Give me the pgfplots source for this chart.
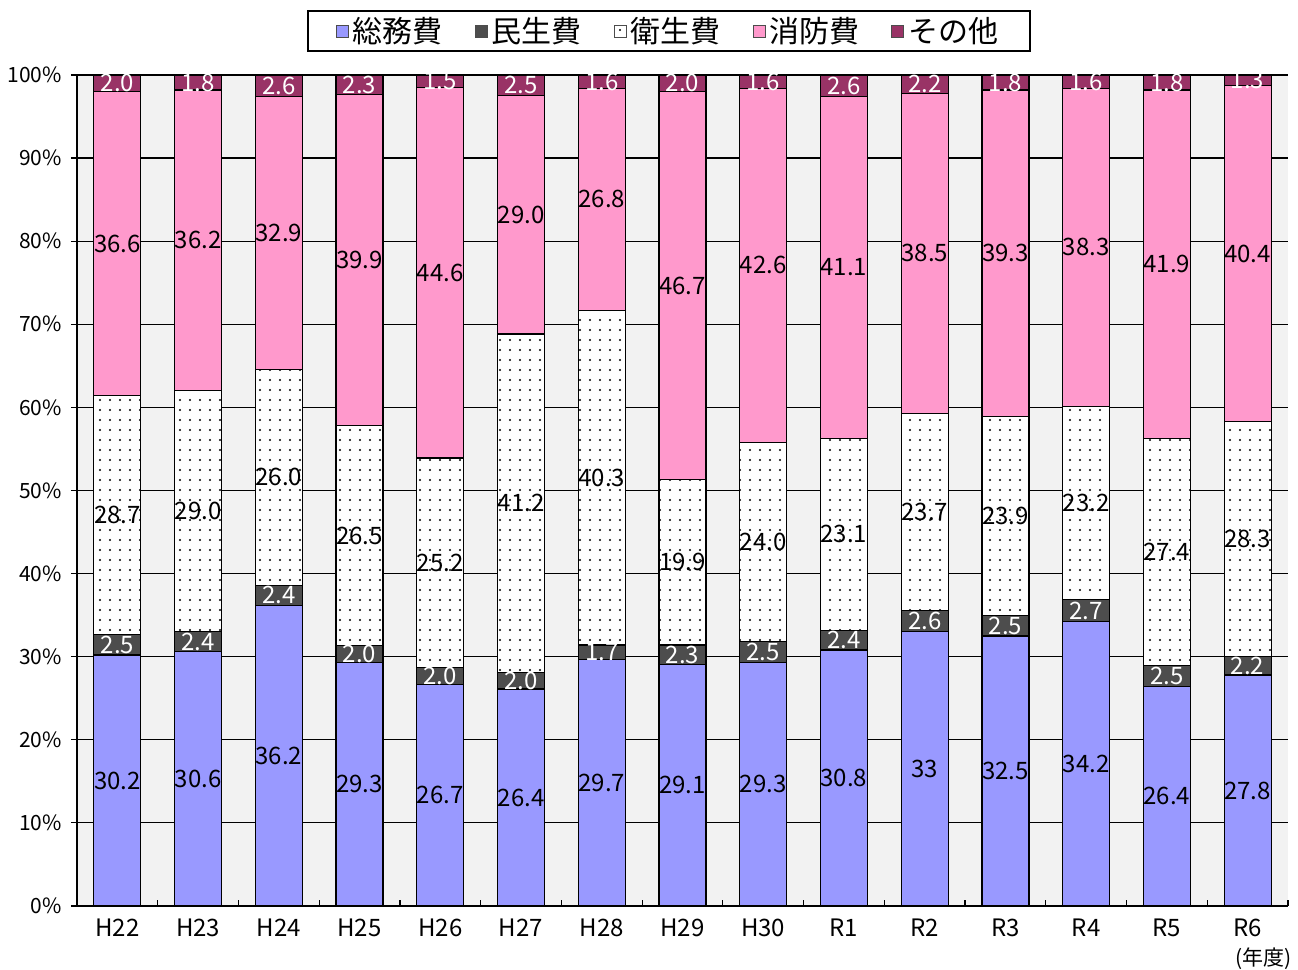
\documentclass[border=0pt]{standalone}
\usepackage{pgfplots}
\pgfplotsset{compat=1.18}
\usepackage{pgfplotstable}
\usepackage{fontspec}
\setmainfont{Noto Sans CJK JP}
\usetikzlibrary{patterns}
\pgfdeclarepatternformonly{sparsedots}{\pgfpoint{-1pt}{-1pt}}{\pgfpoint{1pt}{1pt}}{\pgfpoint{5pt}{5pt}}{\pgfpathcircle{\pgfpointorigin}{0.55pt}\pgfusepath{fill}}
\definecolor{somu}{HTML}{9999FF}
\definecolor{minsei}{HTML}{4D4D4D}
\definecolor{shobo}{HTML}{FF99CC}
\definecolor{sonota}{HTML}{993366}
\definecolor{bgc}{HTML}{F2F2F2}

\pgfplotstableread{
x  a      b     c      d      e     la    lb   lc    ld    le
0  30.2   2.5   28.7   36.6   2.0   30.2  2.5  28.7  36.6  2.0
1  30.6   2.4   29.0   36.2   1.8   30.6  2.4  29.0  36.2  1.8
2  36.2   2.4   26.0   32.8   2.6   36.2  2.4  26.0  32.9  2.6
3  29.3   2.0   26.5   39.9   2.3   29.3  2.0  26.5  39.9  2.3
4  26.7   2.0   25.2   44.6   1.5   26.7  2.0  25.2  44.6  1.5
5  26.11  1.98  40.75  28.68  2.47  26.4  2.0  41.2  29.0  2.5
6  29.7   1.7   40.3   26.7   1.6   29.7  1.7  40.3  26.8  1.6
7  29.1   2.3   19.9   46.7   2.0   29.1  2.3  19.9  46.7  2.0
8  29.3   2.5   24.0   42.6   1.6   29.3  2.5  24.0  42.6  1.6
9  30.8   2.4   23.1   41.1   2.6   30.8  2.4  23.1  41.1  2.6
10 33.0   2.6   23.7   38.5   2.2   33    2.6  23.7  38.5  2.2
11 32.5   2.5   23.9   39.3   1.8   32.5  2.5  23.9  39.3  1.8
12 34.2   2.7   23.2   38.3   1.6   34.2  2.7  23.2  38.3  1.6
13 26.4   2.5   27.4   41.9   1.8   26.4  2.5  27.4  41.9  1.8
14 27.8   2.2   28.3   40.4   1.3   27.8  2.2  28.3  40.4  1.3
}\data
% label positions: middle of each segment
\pgfplotstablecreatecol[create col/expr={\thisrow{a}/2}]{ma}\data
\pgfplotstablecreatecol[create col/expr={\thisrow{a}+\thisrow{b}/2}]{mb}\data
\pgfplotstablecreatecol[create col/expr={\thisrow{a}+\thisrow{b}+\thisrow{c}/2}]{mc}\data
\pgfplotstablecreatecol[create col/expr={\thisrow{a}+\thisrow{b}+\thisrow{c}+\thisrow{d}/2}]{md}\data
\pgfplotstablecreatecol[create col/expr={\thisrow{a}+\thisrow{b}+\thisrow{c}+\thisrow{d}+\thisrow{e}/2}]{me}\data

\pgfplotsset{
  common/.style={
    at={(0,0)}, anchor=south west,
    scale only axis, width=605.5pt, height=415.5pt,
    xmin=-0.5, xmax=14.5, ymin=0, ymax=100, clip=false,
  },
  lab/.style={draw=none, mark=none, nodes near coords={\pgfplotspointmeta},
    point meta=explicit symbolic,
    every node near coord/.append style={anchor=center, inner sep=0pt,
      font=\fontsize{12pt}{14pt}\selectfont}},
}

\begin{document}
\begin{tikzpicture}
\useasboundingbox (-38.5pt,-32pt) rectangle (610.5pt,453pt);
\begin{axis}[
  common,
  ybar stacked, bar width=23.5pt,
  axis background/.style={fill=bgc},
  ymajorgrids, grid style={black, line width=0.6pt},
  axis x line*=bottom, axis y line*=left,
  axis line style={black, line width=0.8pt},
  tick align=inside,
  major tick length=3pt, minor tick length=3pt,
  ytick={0,10,...,100},
  yticklabels={0\%,10\%,20\%,30\%,40\%,50\%,60\%,70\%,80\%,90\%,100\%},
  major y tick style={black, line width=0.6pt, xshift=-3pt},
  xtick={0,...,14},
  xticklabels={H22,H23,H24,H25,H26,H27,H28,H29,H30,R1,R2,R3,R4,R5,R6},
  major x tick style={draw=none},
  minor xtick={0.5,1.5,...,14.5},
  minor x tick style={black, line width=0.6pt},
  yticklabel style={font=\fontsize{10.5pt}{12pt}\selectfont, xshift=-4pt},
  xticklabel style={font=\fontsize{12pt}{14pt}\selectfont, yshift=-3pt},
  legend style={at={(0.489,1.053)}, anchor=center, legend columns=5,
    draw=black, line width=0.8pt, fill=white,
    font=\fontsize{15pt}{18pt}\selectfont,
    inner xsep=14pt, inner ysep=1pt,
    /tikz/every even column/.append style={column sep=14pt}},
  legend image code/.code={\draw[#1, draw=gray!60!black, line width=0.4pt] (0pt,-3pt) rectangle (6pt,3pt);},
]
\addplot[fill=somu, draw=black, line width=0.6pt] table[x=x, y=a]{\data};
\addlegendentry{総務費}
\addplot[fill=minsei, draw=black, line width=0.6pt] table[x=x, y=b]{\data};
\addlegendentry{民生費}
\addplot[fill=white, postaction={pattern=sparsedots}, draw=black, line width=0.6pt] table[x=x, y=c]{\data};
\addlegendentry{衛生費}
\addplot[fill=shobo, draw=black, line width=0.6pt] table[x=x, y=d]{\data};
\addlegendentry{消防費}
\addplot[fill=sonota, draw=black, line width=0.6pt] table[x=x, y=e]{\data};
\addlegendentry{その他}
\node[font=\fontsize{10.5pt}{12pt}\selectfont] at (axis cs:14,0) [yshift=-26.5pt, xshift=8pt] {(年度)};
\end{axis}
\begin{axis}[common, hide axis]
\addplot[lab] table[x=x, y=ma, meta=la]{\data};
\addplot[lab, every node near coord/.append style={text=white}] table[x=x, y=mb, meta=lb]{\data};
\addplot[lab] table[x=x, y=mc, meta=lc]{\data};
\addplot[lab] table[x=x, y=md, meta=ld]{\data};
\addplot[lab, every node near coord/.append style={text=white}] table[x=x, y=me, meta=le]{\data};
\end{axis}
\end{tikzpicture}
\end{document}
